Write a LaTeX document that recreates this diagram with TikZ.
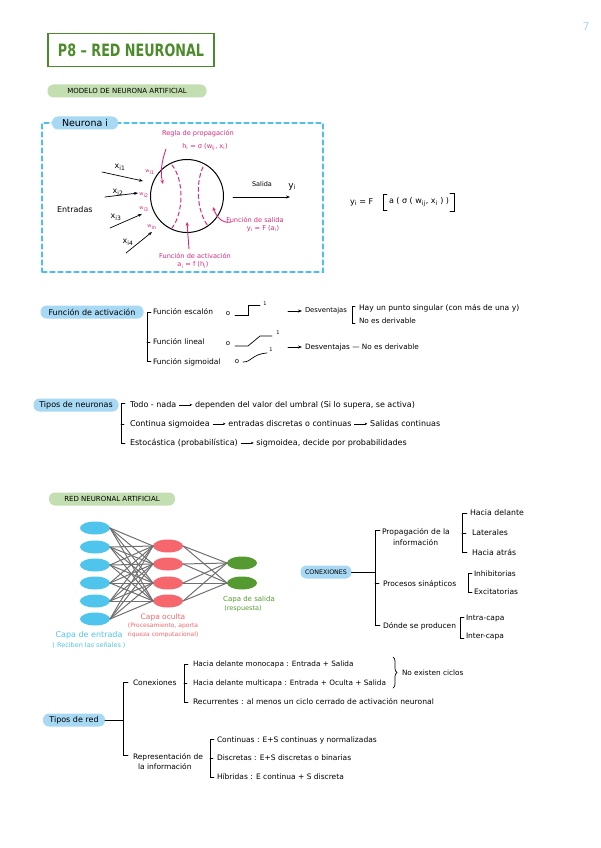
\documentclass[tikz,border=0pt]{standalone}
\usepackage{fontspec}
\setmainfont{DejaVu Sans}
\usetikzlibrary{arrows.meta,shapes.geometric,decorations.pathreplacing,calc}
\definecolor{tgreen}{HTML}{4B8B2B}
\definecolor{pillgreen}{HTML}{C3DEB0}
\definecolor{pillblue}{HTML}{A7D8F4}
\definecolor{dashblue}{HTML}{4DC0EC}
\definecolor{pinkc}{HTML}{DB2A78}
\definecolor{inblue}{HTML}{4FC4EC}
\definecolor{hidred}{HTML}{F5676C}
\definecolor{outgreen}{HTML}{559A30}
\definecolor{edgegray}{HTML}{707070}
\definecolor{pagenum}{HTML}{A8DCF5}
\newcommand\myfs[1]{\fontsize{#1}{#1}\selectfont}
\newcommand\myarr{\tikz[baseline=-0.55ex,x=1pt,y=1pt]\draw[line width=0.6pt,-{Stealth[length=2.6pt,width=2.4pt]}] (0,0)--(13,0);}
\begin{document}
\begin{tikzpicture}[x=1pt,y=-1pt,line cap=round,
  every node/.style={inner sep=0pt,outer sep=0pt},
  txt/.style={anchor=west,font=\myfs{7.3}},
  pill/.style={rounded corners=6pt,minimum height=13pt,anchor=center},
  brk/.style={line width=0.7pt},
  arr/.style={line width=0.7pt,-{Stealth[length=4pt,width=3pt]}},
  parr/.style={pinkc,line width=0.9pt,-{Stealth[length=4pt,width=3.5pt]}},
  pk/.style={text=pinkc,font=\myfs{6.6}},
  nin/.style={ellipse,fill=inblue,minimum width=30pt,minimum height=13pt},
  nhid/.style={ellipse,fill=hidred,minimum width=30pt,minimum height=13pt},
  nout/.style={ellipse,fill=outgreen,minimum width=30pt,minimum height=13pt},
  edge/.style={edgegray,line width=1pt}]
\useasboundingbox (0,0) rectangle (600,848);

% page number
\node[text=pagenum,font=\myfs{11}] (pnum) at (586,26) {7};

% title
\node[draw=tgreen,line width=1.8pt,minimum width=166pt,minimum height=33pt,text=tgreen,font=\bfseries\myfs{17}] (title) at (131,50) {\scalebox{0.75}[1]{P8 – RED NEURONAL}};

\node[pill,fill=pillgreen,minimum width=159pt,font=\myfs{7}] (modelo) at (127,91) {MODELO DE NEURONA ARTIFICIAL};

% neuron box
\node[draw=dashblue,dashed,dash pattern=on 5pt off 3pt,line width=1.2pt,minimum width=281pt,minimum height=149pt] (nbox) at (182.5,197.5) {};
\node[pill,fill=pillblue,minimum width=66pt,font=\myfs{9.5}] (neurona) at (85,123) {Neurona i};

\node[circle,draw,line width=1pt,minimum size=73pt] (neu) at (187,196) {};
\draw[pinkc,line width=1pt,dashed,dash pattern=on 4pt off 3pt] (172,165) .. controls (184,180) and (184,212) .. (172,228);
\draw[pinkc,line width=1pt,dashed,dash pattern=on 4pt off 3pt] (203,167) .. controls (196,182) and (196,210) .. (208,226);

\node[txt,font=\myfs{8}] (entradas) at (57,210) {Entradas};
\node[font=\myfs{8}] (x1) at (120,167) {x\textsubscript{i1}};
\node[font=\myfs{8}] (x2) at (118,192) {x\textsubscript{i2}};
\node[font=\myfs{8}] (x3) at (116,217) {x\textsubscript{i3}};
\node[font=\myfs{8}] (x4) at (128,242) {x\textsubscript{i4}};
\coordinate (a1s) at (102,172); \coordinate (a1e) at (143,181);
\coordinate (a2s) at (105,197); \coordinate (a2e) at (138,193);
\coordinate (a3s) at (110,228); \coordinate (a3e) at (142,214);
\coordinate (a4s) at (126,253); \coordinate (a4e) at (152,232);
\draw[arr] (a1s) -- (a1e);
\draw[arr] (a2s) -- (a2e);
\draw[arr] (a3s) -- (a3e);
\draw[arr] (a4s) -- (a4e);
\node[text=pinkc,font=\myfs{5}] (w1) at (150,172) {w\textsubscript{i1}};
\node[text=pinkc,font=\myfs{5}] (w2) at (144,195) {w\textsubscript{i2}};
\node[text=pinkc,font=\myfs{5}] (w3) at (144,209) {w\textsubscript{i3}};
\node[text=pinkc,font=\myfs{5}] (w4) at (152,227) {w\textsubscript{in}};

\node[pk] (regla) at (198,134) {Regla de propagación};
\node[pk] (hform) at (205,147) {h\textsubscript{i} = σ (w\textsubscript{ij}, x\textsubscript{i})};
\node[pk] (fact) at (195,256) {Función de activación};
\node[pk] (aform) at (193,265) {a\textsubscript{i} = f (h\textsubscript{i})};
\node[pk] (fsal) at (255,220) {Función de salida};
\node[pk] (yform) at (263,229) {y\textsubscript{i} = F (a\textsubscript{i})};
\coordinate (p1s) at (166,149); \coordinate (p1e) at (163,184);
\coordinate (p2s) at (189,249); \coordinate (p2e) at (187,222);
\coordinate (p3s) at (231,222); \coordinate (p3e) at (213,207);
\draw[parr] (p1s) .. controls (162,160) and (160,172) .. (p1e);
\draw[parr] (p2s) -- (p2e);
\draw[parr] (p3s) .. controls (222,224) and (216,216) .. (p3e);

\coordinate (sals) at (233,197); \coordinate (sale) at (290,197);
\draw[arr] (sals) -- (sale);
\node[font=\myfs{6.5}] (salida) at (262,184) {Salida};
\node[font=\myfs{9}] (yi) at (292,187) {y\textsubscript{i}};

% formula
\node[txt,font=\myfs{8}] (fy) at (350,202) {y\textsubscript{i} = F};
\node[txt,font=\myfs{8}] (fin) at (389,202) {a ( σ ( w\textsubscript{ij}, x\textsubscript{i} ) )};
\draw[line width=0.9pt] (387,194) -- (383,194) -- (383,210) -- (387,210);
\draw[line width=0.9pt] ($(fin.east)+(1,-9)$) -- ($(fin.east)+(5,-9)$) -- ($(fin.east)+(5,9)$) -- ($(fin.east)+(1,9)$);

% funcion de activacion
\node[pill,fill=pillblue,minimum width=103pt,font=\myfs{8}] (factp) at (92,312) {Función de activación};
\draw[brk] (151,312) -- (147,312) -- (147,361) -- (151,361);
\draw[brk] (147,342) -- (150,342);
\node[txt,font=\myfs{7.5}] (fesc) at (153,312) {Función escalón};
\node[txt,font=\myfs{7.5}] (flin) at (153,342) {Función lineal};
\node[txt,font=\myfs{7.5}] (fsig) at (153,362) {Función sigmoidal};
\node[font=\myfs{7}] (o1) at (228,314) {o};
\node[font=\myfs{7}] (o2) at (228,344) {o};
\node[font=\myfs{7}] (o3) at (237,362) {o};
\draw[line width=0.7pt] (235,315) -- (248,315) -- (248,305) -- (260,305);
\node[font=\myfs{5}] (one1) at (265,304) {1};
\draw[line width=0.7pt] (235,346) -- (248,346) -- (260,336) -- (272,336);
\node[font=\myfs{5}] (one2) at (278,333) {1};
\draw[line width=0.7pt] (243,362) .. controls (252,362) and (252,354) .. (267,353);
\node[font=\myfs{5}] (one3) at (271,350) {1};

\coordinate (d1s) at (288,311); \coordinate (d1e) at (302,311);
\draw[arr] (d1s) -- (d1e);
\node[txt,font=\myfs{6.8}] (desv1) at (305,311) {Desventajas};
\draw[brk] (355,306) -- (352,306) -- (352,323) -- (355,323);
\node[txt,font=\myfs{7.6}] (hay) at (359,308) {Hay un punto singular (con más de una y)};
\node[txt] (noder) at (359,321) {No es derivable};
\coordinate (d2s) at (288,347); \coordinate (d2e) at (302,347);
\draw[arr] (d2s) -- (d2e);
\node[txt] (desv2) at (305,347) {Desventajas — No es derivable};

% tipos de neuronas
\node[pill,fill=pillblue,minimum width=85pt,font=\myfs{8}] (tneu) at (76,405) {Tipos de neuronas};
\draw[brk] (125,403) -- (121,403) -- (121,443) -- (125,443);
\draw[brk] (121,424) -- (124,424);
\node[txt,font=\myfs{8}] (tn1) at (130,405) {Todo - nada \myarr{} dependen del valor del umbral (Si lo supera, se activa)};
\node[txt,font=\myfs{8}] (tn2) at (130,424) {Continua sigmoidea \myarr{} entradas discretas o continuas \myarr{} Salidas continuas};
\node[txt,font=\myfs{8}] (tn3) at (130,443) {Estocástica (probabilística) \myarr{} sigmoidea, decide por probabilidades};

% red neuronal artificial
\node[pill,fill=pillgreen,minimum width=126pt,font=\myfs{7}] (rna) at (112,499) {RED NEURONAL ARTIFICIAL};
\node[nin] (in1) at (95,528) {};
\node[nin] (in2) at (95,547) {};
\node[nin] (in3) at (95,565) {};
\node[nin] (in4) at (95,583) {};
\node[nin] (in5) at (95,601) {};
\node[nin] (in6) at (95,619) {};
\node[nhid] (h1) at (168,546) {};
\node[nhid] (h2) at (168,564) {};
\node[nhid] (h3) at (168,583) {};
\node[nhid] (h4) at (168,601) {};
\node[nout] (o1n) at (242,563) {};
\node[nout] (o2n) at (242,583) {};
\foreach \i in {1,...,6}{\foreach \j in {1,...,4}{\draw[edge] (in\i.east) -- (h\j.west);}}
\foreach \i in {1,...,4}{\foreach \j in {1,2}{\draw[edge] (h\i.east) -- (o\j n.west);}}
\node[text=inblue,font=\myfs{8}] (cin) at (89,635) {Capa de entrada};
\node[text=inblue,font=\myfs{6.5}] (cin2) at (89,645) {( Reciben las señales )};
\node[text=hidred,font=\myfs{7.5}] (chid) at (163,617) {Capa oculta};
\node[text=hidred,font=\myfs{6}] (chid2) at (163,626) {(Procesamiento, aporta};
\node[text=hidred,font=\myfs{6}] (chid3) at (163,635) {riqueza computacional)};
\node[text=outgreen,font=\myfs{7}] (cout) at (249,600) {Capa de salida};
\node[text=outgreen,font=\myfs{6.5}] (cout2) at (243,609) {(respuesta)};

% conexiones
\node[pill,fill=pillblue,minimum width=51pt,font=\myfs{6.3}] (con) at (326,572) {CONEXIONES};
\coordinate (conb) at (375,572);
\draw[brk] (con.east) -- (conb);
\draw[brk] (380,530) -- (375,530) -- (375,625) -- (380,625);
\draw[brk] (375,583) -- (379,583);
\node[txt,font=\myfs{7.6}] (prop1) at (382,532) {Propagación de la};
\node[txt,font=\myfs{7.6}] (prop2) at (393,543) {información};
\draw[brk] (467,513) -- (462,513) -- (462,552) -- (467,552);
\draw[brk] (462,533) -- (466,533);
\node[txt,font=\myfs{7.8}] (hd) at (470,513) {Hacia delante};
\node[txt,font=\myfs{7.8}] (lat) at (472,533) {Laterales};
\node[txt,font=\myfs{7.8}] (ha) at (472,552) {Hacia atrás};
\node[txt,font=\myfs{7.5}] (proc) at (383,584) {Procesos sinápticos};
\draw[brk] (472,573) -- (468,573) -- (468,592) -- (472,592);
\node[txt,font=\myfs{7.5}] (inh) at (474,574) {Inhibitorias};
\node[txt,font=\myfs{7.5}] (exc) at (474,592) {Excitatorias};
\node[txt,font=\myfs{7.5}] (donde) at (383,626) {Dónde se producen};
\draw[brk] (464,617) -- (460,617) -- (460,638) -- (464,638);
\node[txt,font=\myfs{7.5}] (intra) at (466,619) {Intra-capa};
\node[txt,font=\myfs{7.5}] (inter) at (466,637) {Inter-capa};

% tipos de red
\node[pill,fill=pillblue,minimum width=62pt,font=\myfs{8}] (tred) at (74,720) {Tipos de red};
\coordinate (tredb) at (123,720);
\draw[brk] (tred.east) -- (tredb);
\draw[brk] (128,682) -- (123,682) -- (123,755) -- (128,755);
\node[txt,font=\myfs{7.5}] (conx) at (133,683) {Conexiones};
\draw[brk] (188,664) -- (184,664) -- (184,702) -- (188,702);
\draw[brk] (184,683) -- (187,683);
\node[txt] (mono) at (193,664) {Hacia delante monocapa : Entrada + Salida};
\node[txt] (multi) at (193,683) {Hacia delante multicapa : Entrada + Oculta + Salida};
\node[txt,font=\myfs{7.6}] (recu) at (193,702) {Recurrentes : al menos un ciclo cerrado de activación neuronal};
\draw[line width=0.7pt,decorate,decoration={brace,amplitude=4pt}] (393,657) -- (393,688);
\node[txt] (noex) at (402,673) {No existen ciclos};
\node[txt,font=\myfs{7.5}] (rep1) at (133,757) {Representación de};
\node[txt,font=\myfs{7.5}] (rep2) at (138,767) {la información};
\draw[brk] (214,739) -- (210,739) -- (210,777) -- (214,777);
\draw[brk] (210,758) -- (213,758);
\node[txt,font=\myfs{7.5}] (cont) at (217,740) {Continuas : E+S continuas y normalizadas};
\node[txt,font=\myfs{7.5}] (disc) at (217,758) {Discretas : E+S discretas o binarias};
\node[txt,font=\myfs{7.5}] (hib) at (217,777) {Híbridas : E continua + S discreta};
\end{tikzpicture}
\end{document}
